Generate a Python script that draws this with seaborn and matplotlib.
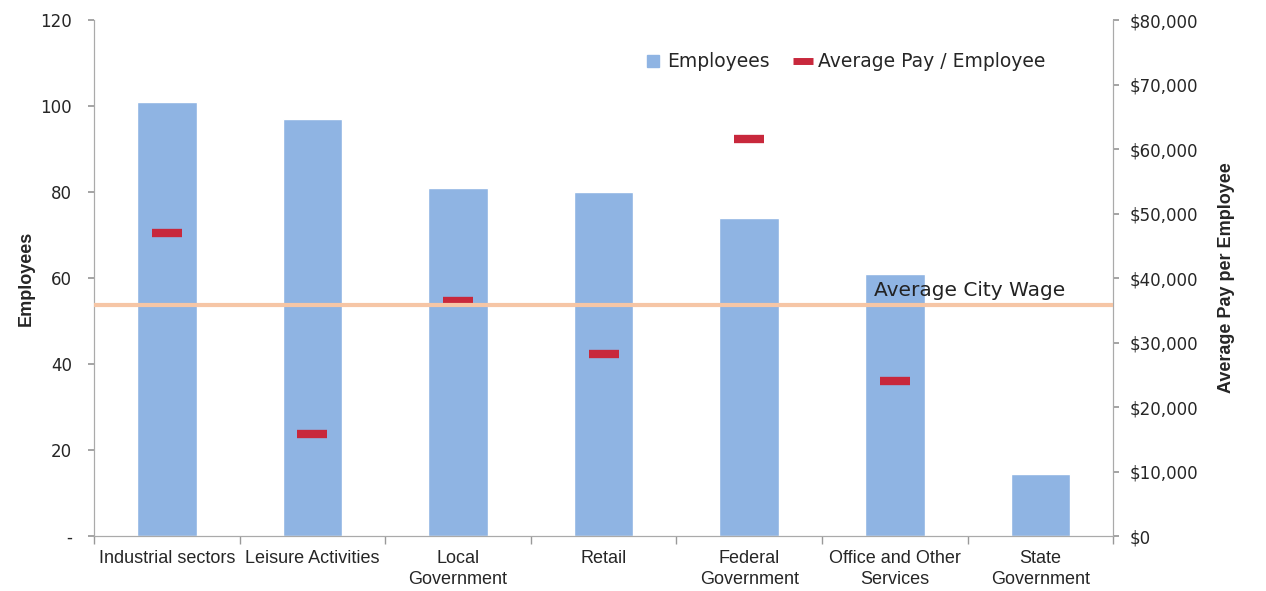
import numpy as np
import pandas as pd
import matplotlib.pyplot as plt
import matplotlib.ticker as mticker
from matplotlib.lines import Line2D
import seaborn as sns

# datos
categories = ["Industrial sectors", "Leisure Activities", "Local\nGovernment", "Retail",
              "Federal\nGovernment", "Office and Other\nServices", "State\nGovernment"]
employees = [101, 97, 81, 80, 74, 61, 14.5]
avg_pay = [47000, 15800, 36500, 28300, 61500, 24000, np.nan]
city_wage = 35800

df = pd.DataFrame({"category": categories, "employees": employees, "pay": avg_pay})

sns.set_theme(style="white")
plt.rcParams['font.family'] = ['DejaVu Sans']

fig = plt.figure(figsize=(12.66, 5.91), dpi=100)
ax = fig.add_axes([0.0743, 0.093, 0.805, 0.873])
ax2 = ax.twinx()

bar_col = "#8fb4e3"
pay_col = "#c8283c"

sns.barplot(data=df, x="category", y="employees", ax=ax, color=bar_col, width=0.41,
            saturation=1)
sns.pointplot(data=df, x="category", y="pay", ax=ax2, color=pay_col, linestyle="none",
              marker="_", markersize=22, markeredgewidth=6)

ax2.axhline(city_wage, color="#f6c6a6", lw=3, zorder=5)
ax2.text(4.86, city_wage + 1400, "Average City Wage", fontsize=14.5, color="#222222")

ax.set_xlim(-0.5, 6.5)
ax.set_ylim(0, 120)
ax2.set_ylim(0, 80000)
ax.set_yticks(np.arange(0, 121, 20))
ax2.set_yticks(np.arange(0, 80001, 10000))
ax.yaxis.set_major_formatter(mticker.FuncFormatter(lambda v, p: "-" if v == 0 else f"{v:.0f}"))
ax2.yaxis.set_major_formatter(mticker.FuncFormatter(lambda v, p: f"${v:,.0f}"))

ax.set_xlabel("")
ax.set_ylabel("Employees", fontsize=13, fontweight="bold", family="Liberation Sans")
ax2.set_ylabel("Average Pay per Employee", fontsize=13, fontweight="bold",
               family="Liberation Sans", labelpad=14)

ax.set_xticks(range(len(categories)))
ax.set_xticklabels(categories, family="Liberation Sans", fontsize=13, linespacing=1.35)
ax.tick_params(axis="x", length=0, pad=10)
ax.set_xticks(np.arange(-0.5, 7, 1), minor=True)
ax.tick_params(axis="x", which="minor", length=6, color="#999999", direction="out", bottom=True)
ax.tick_params(axis="y", length=4, color="#999999", left=True, labelsize=12, pad=12)
ax2.tick_params(axis="y", length=4, color="#999999", right=True, labelsize=12, pad=8)

for a in (ax, ax2):
    for s in ("left", "right", "bottom"):
        a.spines[s].set_color("#aaaaaa")
        a.spines[s].set_linewidth(0.8)
    a.spines["top"].set_visible(False)

handles = [Line2D([], [], marker="s", color="none", markerfacecolor=bar_col,
                  markeredgecolor=bar_col, markersize=8),
           Line2D([], [], marker="_", color="none", markeredgecolor=pay_col,
                  markersize=14, markeredgewidth=5)]
ax2.legend(handles, ["Employees", "Average Pay / Employee"], loc="upper right",
           bbox_to_anchor=(0.95, 0.97), ncol=2, frameon=False, fontsize=13.5,
           handletextpad=0.35, columnspacing=1.3, handlelength=0.9)

plt.savefig("out.png", dpi=100)
